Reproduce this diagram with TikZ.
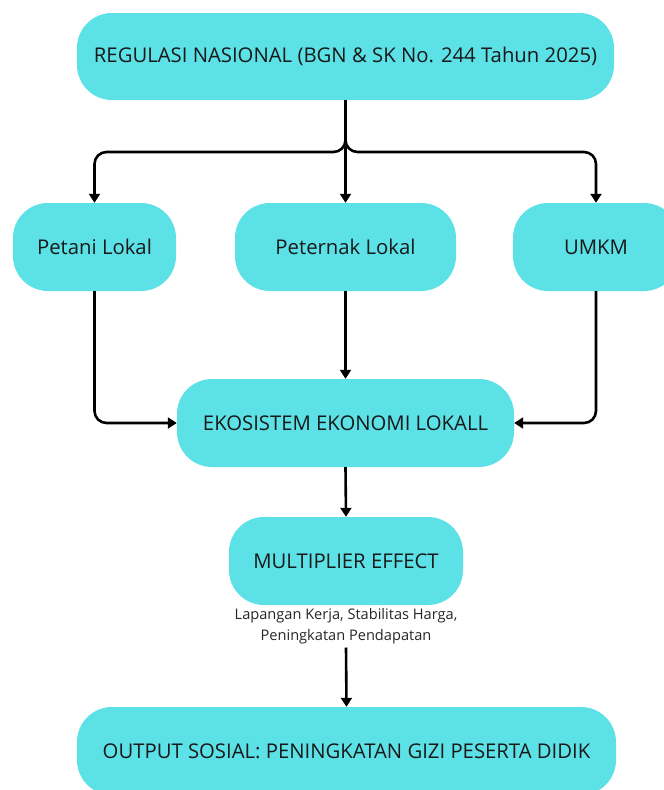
\documentclass[tikz,border=0pt]{standalone}
\usepackage{fontspec}
\setmainfont{Open Sans}
\usetikzlibrary{arrows.meta}
\definecolor{boxcyan}{HTML}{5CE1E6}
\tikzset{
  pill/.style={fill=boxcyan, draw=none, rounded corners=35pt, minimum height=88pt, inner sep=0pt, align=center, font=\fontsize{20.3}{24}\selectfont, text=black!90},
  arr/.style={line width=2.6pt, draw=black, -{Triangle[width=11pt,length=9pt]}},
  note/.style={font=\fontsize{14.6}{21}\selectfont, align=center, inner sep=0pt, text=black!85}
}
\begin{document}
\begin{tikzpicture}[x=1pt,y=1pt]
\useasboundingbox (0,0) rectangle (664,-790);
\clip (0,0) rectangle (664,-790);
\node[pill, minimum width=537pt, minimum height=87pt] (top) at (345.5,-56.5) {REGULASI NASIONAL (BGN \& SK No. 244 Tahun 2025)};
\node[pill, minimum width=163pt] (petani) at (94.5,-247) {Petani Lokal};
\node[pill, minimum width=221pt] (peternak) at (345.5,-247) {Peternak Lokal};
\node[pill, minimum width=166pt] (umkm) at (596,-247) {UMKM};
\node[pill, minimum width=337pt] (eko) at (345.5,-423) {EKOSISTEM EKONOMI LOKALL};
\node[pill, minimum width=234pt] (multi) at (346,-561) {MULTIPLIER EFFECT};
\node[note] (note) at (346,-626.5) {Lapangan Kerja, Stabilitas Harga,\\Peningkatan Pendapatan};
\node[pill, minimum width=539pt] (out) at (346.5,-751) {OUTPUT SOSIAL: PENINGKATAN GIZI PESERTA DIDIK};
\coordinate (j) at (345.5,-152);
\draw[arr, rounded corners=12pt] (top.south) |- (petani.north |- j) -- (petani.north);
\draw[arr, rounded corners=12pt] (top.south) |- (umkm.north |- j) -- (umkm.north);
\draw[arr] (top.south) -- (peternak.north);
\draw[arr, rounded corners=12pt] (petani.south) |- (eko.west);
\draw[arr, rounded corners=12pt] (umkm.south) |- (eko.east);
\draw[arr] (peternak.south) -- (eko.north);
\draw[arr] (eko.south) -- (multi.north);
\draw[arr] ([yshift=-3pt]note.south) -- (out.north);
\end{tikzpicture}
\end{document}
